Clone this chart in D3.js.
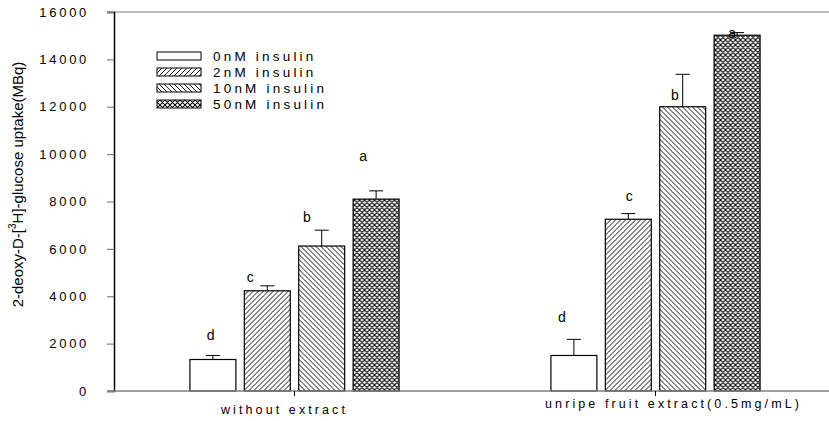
<!DOCTYPE html>
<html>
<head>
<meta charset="utf-8">
<script src="https://cdn.jsdelivr.net/npm/d3@7"></script>
<style>
  html, body { margin: 0; padding: 0; background: #fff; }
  svg { display: block; font-family: "Liberation Sans", Arial, sans-serif; }
</style>
</head>
<body>
<svg id="chart" width="829" height="421"></svg>
<script>
// ---- data ----
const groups = ["without extract", "unripe fruit extract(0.5mg/mL)"];
const series = ["0nM insulin", "2nM insulin", "10nM insulin", "50nM insulin"];
const valuesWithout = [1330, 4230, 6120, 8100];
const errorsWithout = [170, 210, 670, 350];
const valuesUnripe = [1500, 7250, 12000, 15020];
const errorsUnripe = [680, 240, 1370, 110];
const lettersWithout = ["d", "c", "b", "a"];
const lettersUnripe = ["d", "c", "b", "a"];
// letter positions (value units) and shift (fraction of bar width)
const letterAtWithout = [2360, 4810, 7340, 9920];
const letterAtUnripe = [3140, 8230, 12500, 15110];
const letterShiftWithout = [-0.05, -0.37, -0.32, -0.28];
const letterShiftUnripe = [-0.26, 0.02, -0.17, -0.11];
const yTicks = [0, 2000, 4000, 6000, 8000, 10000, 12000, 14000, 16000];

const values = [valuesWithout, valuesUnripe];
const errors = [errorsWithout, errorsUnripe];
const letters = [lettersWithout, lettersUnripe];
const letterAt = [letterAtWithout, letterAtUnripe];
const letterShift = [letterShiftWithout, letterShiftUnripe];

const svg = d3.select("#chart");
const W = 829, H = 421;
const mLeft = 114, mTop = 12, mBottom = 391;

const y = d3.scaleLinear().domain([0, 16000]).range([mBottom, mTop]);
const x0 = d3.scaleBand().domain(groups).range([mLeft, 836]).padding(0);
const x1 = d3.scaleBand().domain(series).range([-108.8, 108.8])
  .paddingInner(0.155).paddingOuter(0.0775);

// ---- patterns ----
const defs = svg.append("defs");
function pat(id, d, sw) {
  const p = defs.append("pattern").attr("id", id)
    .attr("patternUnits", "userSpaceOnUse").attr("width", 5).attr("height", 5);
  p.append("rect").attr("width", 5).attr("height", 5).attr("fill", "#fff");
  p.append("path").attr("d", d).attr("stroke", "#000").attr("stroke-width", sw).attr("fill", "none");
}
const fwd = "M-1,1 L1,-1 M0,5 L5,0 M4,6 L6,4";
const bwd = "M-1,4 L1,6 M0,0 L5,5 M4,-1 L6,1";
pat("p2", fwd, 0.9);
pat("p10", bwd, 0.9);
pat("p50", fwd + " " + bwd, 1.05);
const fills = ["#fff", "url(#p2)", "url(#p10)", "url(#p50)"];

// ---- frame top line ----
svg.append("line").attr("x1", 107).attr("x2", W).attr("y1", y(16000)).attr("y2", y(16000))
  .attr("stroke", "#808080").attr("stroke-width", 1.2);

// ---- bars ----
groups.forEach((g, gi) => {
  const cx = x0(g) + x0.bandwidth() / 2;
  const gEl = svg.append("g").attr("transform", `translate(${cx},0)`);
  series.forEach((s, si) => {
    const v = values[gi][si], e = errors[gi][si];
    const bx = x1(s), bw = x1.bandwidth();
    gEl.append("rect")
      .attr("x", bx).attr("y", y(v)).attr("width", bw).attr("height", y(0) - y(v))
      .attr("fill", fills[si]).attr("stroke", "#000").attr("stroke-width", 1.2);
    const mx = bx + bw / 2;
    gEl.append("line").attr("x1", mx).attr("x2", mx).attr("y1", y(v)).attr("y2", y(v + e))
      .attr("stroke", "#000").attr("stroke-width", 1);
    gEl.append("line").attr("x1", mx - 7).attr("x2", mx + 7).attr("y1", y(v + e)).attr("y2", y(v + e))
      .attr("stroke", "#000").attr("stroke-width", 1);
    gEl.append("text")
      .attr("x", mx + letterShift[gi][si] * bw).attr("y", y(letterAt[gi][si]))
      .attr("dy", "0.35em").attr("text-anchor", "middle")
      .attr("font-size", 14).attr("fill", "#000")
      .text(letters[gi][si]);
  });
});

// ---- y axis ----
const yAxis = svg.append("g").attr("transform", `translate(${mLeft},0)`)
  .call(d3.axisLeft(y).tickValues(yTicks).tickSize(7).tickPadding(18).tickFormat(d3.format("d")));
yAxis.select(".domain").attr("stroke", "#000").attr("stroke-width", 1.5);
yAxis.selectAll(".tick line").attr("stroke", "#808080").attr("stroke-width", 1.2);
yAxis.selectAll(".tick text").attr("font-size", 13).attr("fill", "#000")
  .attr("font-family", "Liberation Sans, Arial, sans-serif")
  .style("letter-spacing", "2.7px");

// ---- x axis ----
svg.append("line").attr("x1", 107).attr("x2", W).attr("y1", mBottom).attr("y2", mBottom)
  .attr("stroke", "#808080").attr("stroke-width", 1.5);
const xAxis = svg.append("g").attr("transform", `translate(0,${mBottom})`)
  .call(d3.axisBottom(x0).tickSize(5).tickPadding(0));
xAxis.select(".domain").remove();
xAxis.selectAll(".tick line").attr("stroke", "#000").attr("stroke-width", 1);
const xShift = [-10, 18], xDrop = [19, 13];
xAxis.selectAll(".tick text")
  .attr("font-size", 12.5).attr("fill", "#000")
  .attr("font-family", "Liberation Sans, Arial, sans-serif")
  .style("letter-spacing", "3.1px")
  .attr("dx", (d, i) => xShift[i]).attr("y", (d, i) => xDrop[i]).attr("dy", "0.35em");

// ---- y label ----
const yl = svg.append("text")
  .attr("transform", `translate(23,${(mTop + mBottom) / 2 - 17}) rotate(-90)`)
  .attr("text-anchor", "middle").attr("font-size", 15).attr("fill", "#000");
yl.append("tspan").text("2-deoxy-D-[");
yl.append("tspan").attr("font-size", 10).attr("dy", -7).text("3");
yl.append("tspan").attr("dy", 7).text("H]-glucose uptake(MBq)");

// ---- legend ----
const leg = svg.append("g");
series.forEach((s, i) => {
  const cy = 56 + i * 16;
  leg.append("rect").attr("x", 157).attr("y", cy - 4).attr("width", 44).attr("height", 8)
    .attr("fill", fills[i]).attr("stroke", "#000").attr("stroke-width", 1);
  leg.append("text").attr("x", 213).attr("y", cy).attr("dy", "0.36em")
    .attr("font-size", 13.5).attr("fill", "#000").style("letter-spacing", "3.2px")
    .text(s);
});
</script>
</body>
</html>
